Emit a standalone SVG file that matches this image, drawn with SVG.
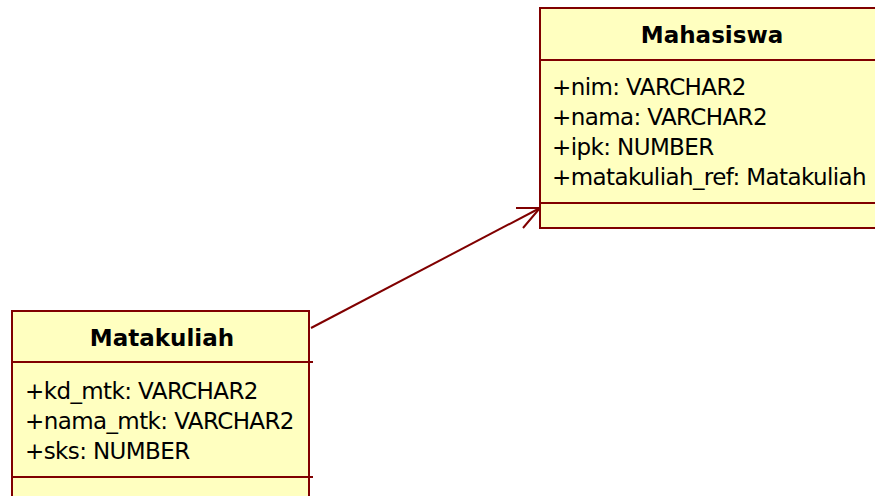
<svg xmlns="http://www.w3.org/2000/svg" width="875" height="496" viewBox="0 0 875 496">
<style>
.box{fill:#ffffc0;stroke:#800000;stroke-width:2}
.div{stroke:#800000;stroke-width:2;fill:none}
.title{font-family:"DejaVu Sans",sans-serif;font-weight:bold;font-size:23px;fill:#000;text-anchor:middle}
.attr{font-family:"DejaVu Sans",sans-serif;font-size:23px;letter-spacing:-0.6px;fill:#000}
.conn{stroke:#800000;stroke-width:2;fill:none}
</style>
<rect width="875" height="496" fill="#fff"/>
<g id="connectors">
<path class="conn" d="M311,328 L540,208"/>
<path class="conn" d="M516,208 L540,208 L523,228"/>
</g>
<g id="Mahasiswa">
<rect class="box" x="540" y="8" width="360" height="220"/>
<line class="div" x1="540" y1="60" x2="900" y2="60"/>
<line class="div" x1="540" y1="203" x2="900" y2="203"/>
<text class="title" x="712" y="43">Mahasiswa</text>
<text class="attr" x="552" y="95">+nim: VARCHAR2</text>
<text class="attr" x="552" y="125">+nama: VARCHAR2</text>
<text class="attr" x="552" y="155">+ipk: NUMBER</text>
<text class="attr" x="552" y="185">+matakuliah_ref: Matakuliah</text>
</g>
<g id="Matakuliah">
<rect class="box" x="12" y="311" width="297" height="200"/>
<line class="div" x1="12" y1="362" x2="313" y2="362"/>
<line class="div" x1="12" y1="477" x2="313" y2="477"/>
<text class="title" x="162" y="346">Matakuliah</text>
<text class="attr" x="25" y="399">+kd_mtk: VARCHAR2</text>
<text class="attr" x="25" y="429">+nama_mtk: VARCHAR2</text>
<text class="attr" x="25" y="459">+sks: NUMBER</text>
</g>
</svg>
